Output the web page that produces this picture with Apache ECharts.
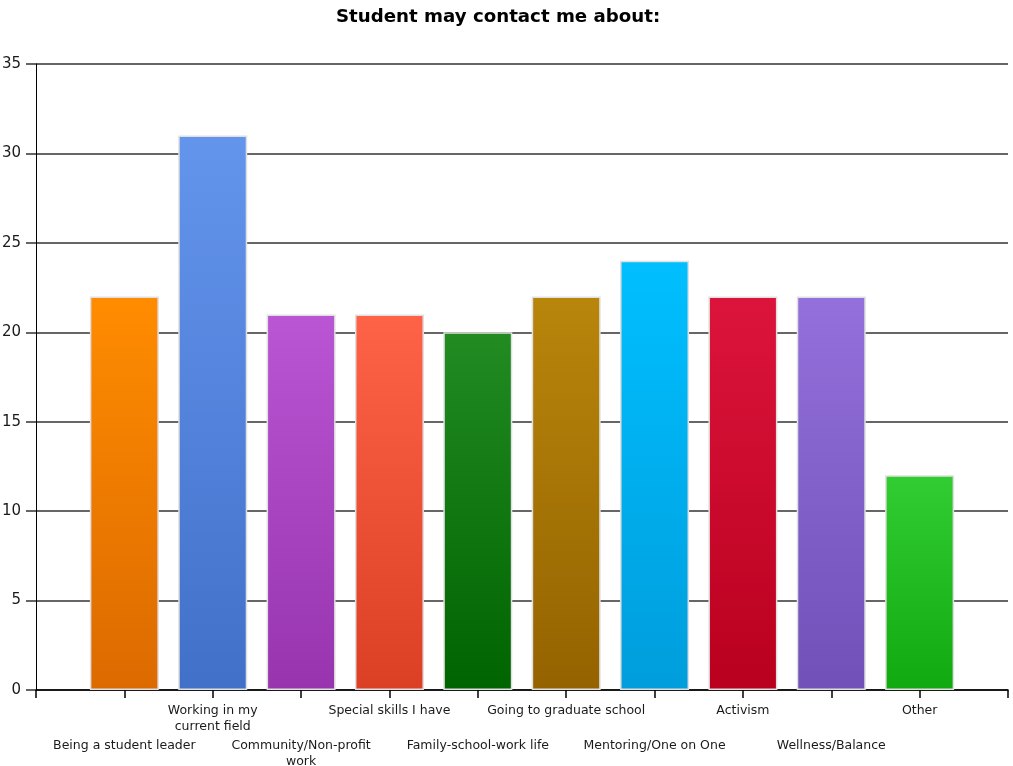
<!DOCTYPE html>
<html>
<head>
<meta charset="utf-8">
<script src="https://cdn.jsdelivr.net/npm/echarts@6/dist/echarts.min.js"></script>
<style>html,body{margin:0;padding:0;background:#fff}#c{width:1013px;height:766px}</style>
</head>
<body>
<div id="c"></div>
<script>
const categories = ["Being a student leader", "Working in my\ncurrent field", "Community/Non-profit\nwork", "Special skills I have", "Family-school-work life", "Going to graduate school", "Mentoring/One on One", "Activism", "Wellness/Balance", "Other"];
const values = [22, 31, 21, 21, 20, 22, 24, 22, 22, 12];
const topColors = ["#FF8C00", "#6495ED", "#BA55D3", "#FF6347", "#228B22", "#B8860B", "#00BFFF", "#DC143C", "#9370DB", "#32CD32"];
const bottomColors = ["#DC6A00", "#4170C9", "#9734AE", "#DB3F24", "#006400", "#946300", "#009DDC", "#B9001E", "#7150B8", "#10AA10"];
const yTicks = [0, 5, 10, 15, 20, 25, 30, 35];

const chart = echarts.init(document.getElementById('c'));
const data = values.map((v, i) => ({
  value: [i + 1, v],
  itemStyle: {
    color: new echarts.graphic.LinearGradient(0, 0, 0, 1, [
      { offset: 0, color: topColors[i] },
      { offset: 1, color: bottomColors[i] }
    ])
  }
}));

chart.setOption({
  animation: false,
  title: {
    text: 'Student may contact me about:',
    left: 331,
    top: 3,
    textStyle: { fontFamily: 'DejaVu Sans', fontWeight: 'bold', fontSize: 18.2, color: '#000' }
  },
  grid: { left: 36, right: 5, top: 64, bottom: 76, containLabel: false, outerBoundsMode: 'none' },
  xAxis: {
    type: 'value',
    min: 0,
    max: 11,
    interval: 1,
    splitLine: { show: false },
    axisLine: { show: true, lineStyle: { color: '#000', width: 1.5 } },
    axisTick: { show: true, length: 8, lineStyle: { color: '#000', width: 1.5 } },
    axisLabel: {
      margin: 13,
      showMinLabel: true,
      showMaxLabel: true,
      verticalAlign: 'top',
      formatter: function (val) {
        const idx = Math.round(val) - 1;
        if (idx < 0 || idx >= categories.length) return '';
        const lines = categories[idx].split('\n').map(s => '{t|' + s + '}').join('\n');
        return idx % 2 === 0 ? '{g| }\n' + lines : lines;
      },
      rich: {
        t: { fontFamily: 'DejaVu Sans', fontSize: 12.5, lineHeight: 15.5, color: '#1a1a1a' },
        g: { fontSize: 10, lineHeight: 35 }
      }
    }
  },
  yAxis: {
    type: 'value',
    min: yTicks[0],
    max: yTicks[yTicks.length - 1],
    interval: 5,
    axisLine: { show: true, lineStyle: { color: '#000', width: 1 } },
    axisTick: { show: true, length: 10, lineStyle: { color: '#333', width: 1.5 } },
    splitLine: { show: true, lineStyle: { color: '#333', width: 1.5 } },
    axisLabel: { margin: 15, fontFamily: 'DejaVu Sans', fontSize: 15, color: '#1a1a1a' }
  },
  series: [{
    type: 'bar',
    barWidth: 69,
    data: data,
    itemStyle: { borderColor: '#e0e0e0', borderWidth: 1.5 }
  }]
});
</script>
</body>
</html>
